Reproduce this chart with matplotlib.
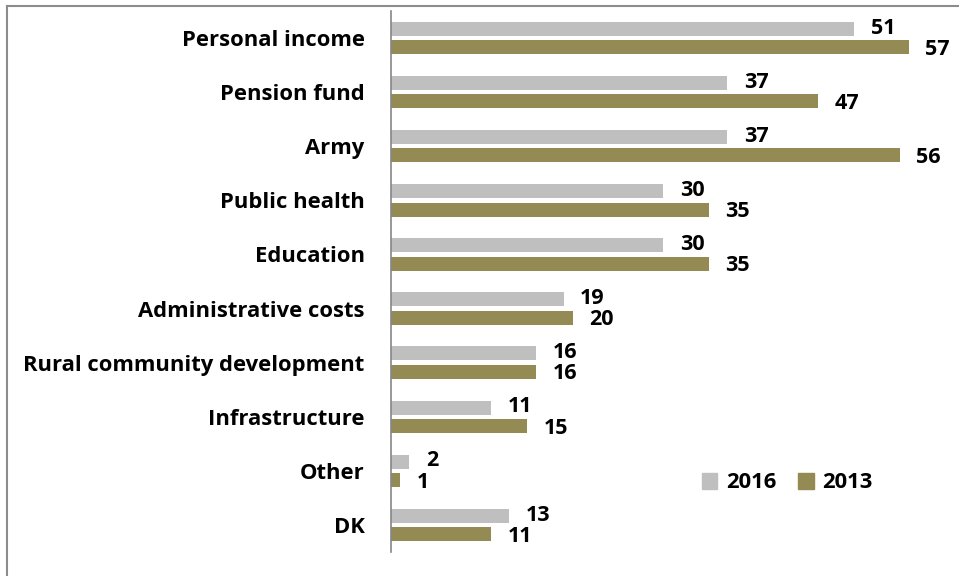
import numpy as np
import matplotlib.pyplot as plt
from matplotlib.lines import Line2D
from matplotlib.patches import Patch

categories = ["Personal income", "Pension fund", "Army", "Public health", "Education",
              "Administrative costs", "Rural community development", "Infrastructure",
              "Other", "DK"]
v2016 = [51, 37, 37, 30, 30, 19, 16, 11, 2, 13]
v2013 = [57, 47, 56, 35, 35, 20, 16, 15, 1, 11]

grey = "#BFBFBF"
olive = "#948A54"
plt.rcParams['font.family'] = ['Open Sans', 'DejaVu Sans']
plt.rcParams['font.weight'] = 'bold'

fig = plt.figure(figsize=(9.59, 5.76), dpi=100)
ax = fig.add_axes([391/959, 1-552/576, 1-391/959-0.01, (552-11)/576])

y = np.arange(len(categories))
h = 0.26
off = 0.17
ax.barh(y - off, v2016, height=h, color=grey, label="2016")
ax.barh(y + off, v2013, height=h, color=olive, label="2013")

# value labels just past the bar ends
for yi, a, b in zip(y, v2016, v2013):
    ax.annotate(str(a), (a, yi - off), xytext=(12, 0.5), textcoords='offset points',
                va='center', ha='left', fontsize=15.5, fontweight='bold')
    ax.annotate(str(b), (b, yi + off), xytext=(12, -1.5), textcoords='offset points',
                va='center', ha='left', fontsize=15.5, fontweight='bold')

ax.set_ylim(len(categories) - 0.5, -0.5)
ax.set_xlim(0, (950-391)/9.09)
ax.set_yticks(y)
ax.set_yticklabels(categories, fontsize=15.8, fontweight='bold')
ax.tick_params(axis='y', length=0, pad=19)
ax.set_xticks([])
for s in ['top', 'right', 'bottom']:
    ax.spines[s].set_visible(False)
ax.spines['left'].set_color('#868686')
ax.spines['left'].set_linewidth(1.2)

ax.legend(handles=[Patch(color=grey, label="2016"), Patch(color=olive, label="2013")],
          loc='center left', bbox_to_anchor=(682/959, 1-483/576), bbox_transform=fig.transFigure,
          ncol=2, frameon=False, handlelength=0.7, handleheight=0.7, handletextpad=0.4,
          columnspacing=1.0, prop={'size': 15.8, 'weight': 'bold'})

# outer frame, cut off at the right and bottom
x0 = 6.5/959
yt = 1 - 5.5/576
fig.add_artist(Line2D([x0, x0], [0, yt], transform=fig.transFigure, color='#8C8C8C', lw=1.5))
fig.add_artist(Line2D([x0, 1], [yt, yt], transform=fig.transFigure, color='#8C8C8C', lw=1.5))

fig.savefig("out.png", dpi=100)
